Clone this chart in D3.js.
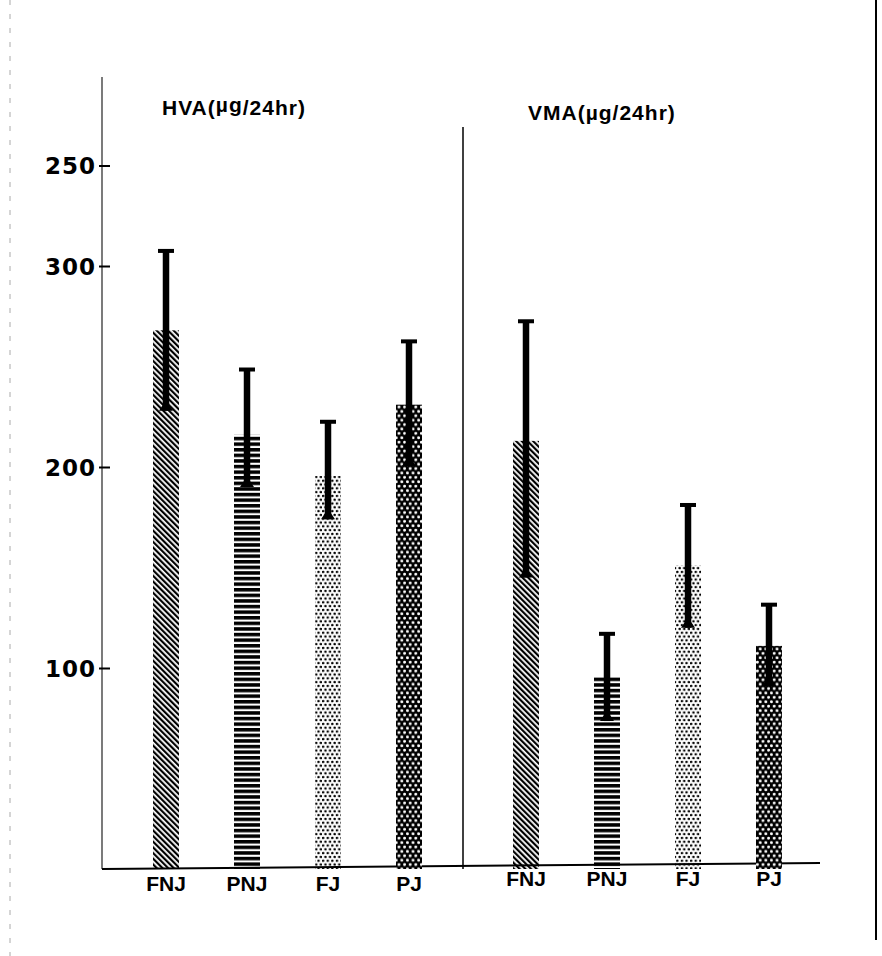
<!DOCTYPE html>
<html>
<head>
  <script src="https://d3js.org/d3.v7.min.js"></script>
  <style>
    body { margin: 0; background: #fff; }
    .cat { font-family: "Liberation Sans", Arial, sans-serif; font-weight: bold; font-size: 21px; }
    .title { font-family: "Liberation Sans", Arial, sans-serif; font-weight: bold; font-size: 21px; letter-spacing: 1px; }
    .tick text { font-family: "DejaVu Sans", sans-serif; font-weight: bold; font-size: 23px; letter-spacing: 1px; fill: #000; }
  </style>
</head>
<body>
  <script>
    var width = 882, height = 956;

    // values (µg/24hr), with the ends of the error bars
    var groups = ["HVA", "VMA"];
    var groupTitles = ["HVA(", "VMA("];
    var categories = ["FNJ", "PNJ", "FJ", "PJ"];
    var hvaMean = [268, 216, 195.5, 231];
    var hvaLow  = [228, 190, 174, 200.5];
    var hvaHigh = [308, 249, 223, 263];
    var vmaMean = [213, 95.5, 151, 111];
    var vmaLow  = [145, 73.6, 120, 91];
    var vmaHigh = [273, 117.5, 181.6, 132];
    // the printed axis reads 250 above 300
    var tickValues = [100, 200, 300, 350];
    var tickLabels = ["100", "200", "300", "250"];

    var means = [hvaMean, vmaMean], lows = [hvaLow, vmaLow], highs = [hvaHigh, vmaHigh];
    var data = [];
    groups.forEach(function(g, gi) {
      categories.forEach(function(c, ci) {
        data.push({group: g, cat: c, mean: means[gi][ci], lo: lows[gi][ci], hi: highs[gi][ci]});
      });
    });

    var y = d3.scaleLinear().domain([0, 300]).range([869, 266]);
    var x0 = d3.scaleBand().domain(groups).range([102, 822]);
    var x1 = d3.scalePoint().domain(categories).range([64, 307]);
    var barW = 26;
    function cx(d) { return x0(d.group) + x1(d.cat); }

    var svg = d3.select("body").append("svg").attr("width", width).attr("height", height);
    svg.append("rect").attr("width", width).attr("height", height).attr("fill", "#fff");

    var defs = svg.append("defs");
    // FNJ: "\" hatch
    var p1 = defs.append("pattern").attr("id", "p-FNJ").attr("patternUnits", "userSpaceOnUse")
      .attr("width", 4).attr("height", 4).attr("patternTransform", "rotate(-45)");
    p1.append("rect").attr("width", 2.2).attr("height", 4).attr("fill", "#000");
    // PNJ: thick horizontal lines
    var p2 = defs.append("pattern").attr("id", "p-PNJ").attr("patternUnits", "userSpaceOnUse")
      .attr("width", 6).attr("height", 5.6);
    p2.append("rect").attr("width", 6).attr("height", 3.5).attr("fill", "#000");
    // FJ: fine dots
    var p3 = defs.append("pattern").attr("id", "p-FJ").attr("patternUnits", "userSpaceOnUse")
      .attr("width", 4.6).attr("height", 7.6);
    p3.append("circle").attr("cx", 1.15).attr("cy", 1.9).attr("r", 1.3).attr("fill", "#000");
    p3.append("circle").attr("cx", 3.45).attr("cy", 5.7).attr("r", 1.3).attr("fill", "#000");
    // PJ: black with white holes
    var p4 = defs.append("pattern").attr("id", "p-PJ").attr("patternUnits", "userSpaceOnUse")
      .attr("width", 5.6).attr("height", 8.8);
    p4.append("rect").attr("width", 5.6).attr("height", 8.8).attr("fill", "#000");
    p4.append("circle").attr("cx", 1.4).attr("cy", 2.2).attr("r", 1.45).attr("fill", "#fff");
    p4.append("circle").attr("cx", 4.2).attr("cy", 6.6).attr("r", 1.45).attr("fill", "#fff");

    // page edges of the scan
    svg.append("line").attr("x1", 876).attr("x2", 876).attr("y1", 0).attr("y2", 940)
      .attr("stroke", "#000").attr("stroke-width", 2);
    svg.append("line").attr("x1", 10).attr("x2", 10).attr("y1", 0).attr("y2", 956)
      .attr("stroke", "#aaa").attr("stroke-width", 1).attr("stroke-dasharray", "5,9");

    // axes
    svg.append("line").attr("x1", 102).attr("x2", 102).attr("y1", 77).attr("y2", y(0))
      .attr("stroke", "#222").attr("stroke-width", 1.2);
    svg.append("line").attr("x1", 463).attr("x2", 463).attr("y1", 127).attr("y2", y(0))
      .attr("stroke", "#000").attr("stroke-width", 1.5);
    svg.append("line").attr("x1", 102).attr("x2", 820).attr("y1", y(0)).attr("y2", y(0) - 6)
      .attr("stroke", "#000").attr("stroke-width", 2);

    var yAxis = d3.axisLeft(y).tickValues(tickValues)
      .tickFormat(function(d, i) { return tickLabels[i]; })
      .tickSize(-8).tickPadding(6);
    var ax = svg.append("g").attr("transform", "translate(102,0)").call(yAxis);
    ax.select(".domain").remove();
    ax.selectAll(".tick line").attr("x1", -3).attr("stroke-width", 2);
    ax.selectAll(".tick text").attr("dy", "0.36em");

    // bars
    svg.selectAll("rect.bar").data(data).enter().append("rect")
      .attr("class", "bar")
      .attr("x", function(d) { return cx(d) - barW / 2; })
      .attr("width", barW)
      .attr("y", function(d) { return y(d.mean); })
      .attr("height", function(d) { return y(0) - y(d.mean); })
      .attr("fill", function(d) { return "url(#p-" + d.cat + ")"; });

    // error bars
    var eb = svg.selectAll("g.err").data(data).enter().append("g").attr("class", "err");
    eb.append("line")
      .attr("x1", cx).attr("x2", cx)
      .attr("y1", function(d) { return y(d.hi); })
      .attr("y2", function(d) { return y(d.lo); })
      .attr("stroke", "#000").attr("stroke-width", 6.5);
    eb.append("rect")
      .attr("x", function(d) { return cx(d) - 8; })
      .attr("y", function(d) { return y(d.hi) - 1; })
      .attr("width", 16).attr("height", 4).attr("fill", "#000");
    eb.append("path")
      .attr("d", function(d) {
        var c = cx(d), b = y(d.lo);
        return "M" + (c - 3) + "," + (b - 6) + "L" + (c + 3) + "," + (b - 6) +
          "L" + (c + 7) + "," + b + "L" + (c - 7) + "," + b + "Z";
      })
      .attr("fill", "#000");

    // category labels
    svg.selectAll("text.cat").data(data).enter().append("text")
      .attr("class", "cat")
      .attr("text-anchor", "middle")
      .attr("x", cx)
      .attr("y", function(d) { return d.group === "HVA" ? 891 : 886; })
      .text(function(d) { return d.cat; });

    // group titles
    var titleX = [162, 528], titleY = [115, 120];
    groups.forEach(function(g, gi) {
      var t = svg.append("text").attr("class", "title").attr("x", titleX[gi]).attr("y", titleY[gi]);
      t.append("tspan").text(groupTitles[gi]);
      t.append("tspan").attr("dy", gi === 0 ? -3 : 0).text("µg");
      t.append("tspan").attr("dy", gi === 0 ? 3 : 0).text("/24hr)");
    });
  </script>
</body>
</html>
